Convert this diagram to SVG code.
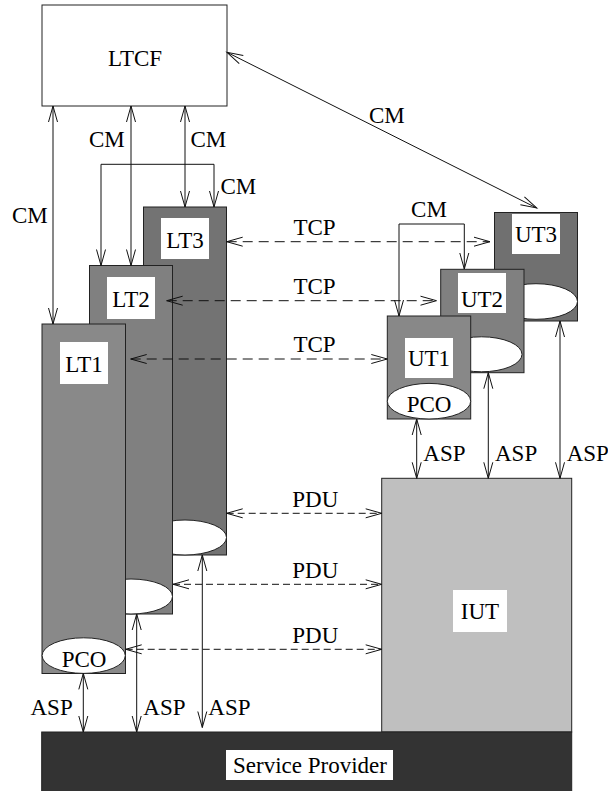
<svg xmlns="http://www.w3.org/2000/svg" width="608" height="791" viewBox="0 0 608 791" font-family="'Liberation Serif', 'Times New Roman', Times, serif" font-size="23">
<defs>
<style>
text{font-family:'Liberation Serif','Times New Roman',Times,serif;font-size:23px;fill:#000}
.c{text-anchor:middle}
.box{stroke:#222;stroke-width:1}
.lbl{fill:#fff;stroke:none}
.ell{fill:#fff;stroke:#222;stroke-width:1}
.ln{fill:none;stroke:#111;stroke-width:1}
.d1{stroke-dasharray:10 6}
.d2{stroke-dasharray:7 4}
.a{marker-end:url(#ah)}
.aa{marker-start:url(#ah);marker-end:url(#ah)}
</style>
<marker id="ah" markerUnits="userSpaceOnUse" viewBox="-18 -6 20 12" markerWidth="20" markerHeight="12" refX="0" refY="0" orient="auto-start-reverse" overflow="visible">
<path d="M-16,-4.5 L0,0 L-16,4.5" fill="none" stroke="#111" stroke-width="1" stroke-dasharray="none"/>
</marker>
</defs>
<rect width="608" height="791" fill="#fff"/>

<g id="ltcf">
<rect class="box" x="42" y="5" width="185" height="101" fill="#fff"/>
<text class="c" x="135" y="66">LTCF</text>
</g>

<g id="lt3">
<rect class="box" x="143.5" y="207" width="83" height="348" fill="#737373"/>
<ellipse class="ell" cx="185" cy="537.5" rx="41.5" ry="17.5"/>
<rect class="lbl" x="161" y="218" width="48" height="41"/>
<text class="c" x="185" y="248">LT3</text>
</g>

<g id="lt2">
<rect class="box" x="89.5" y="265.5" width="83" height="348.5" fill="#808080"/>
<ellipse class="ell" cx="131" cy="596.5" rx="41.5" ry="17.5"/>
<rect class="lbl" x="107" y="277" width="48" height="42"/>
<text class="c" x="131" y="307">LT2</text>
</g>

<g id="lt1">
<rect class="box" x="42" y="324" width="83.5" height="349.5" fill="#898989"/>
<ellipse class="ell" cx="83.7" cy="655.6" rx="41.6" ry="17.8"/>
<rect class="lbl" x="60" y="342" width="48" height="42"/>
<text class="c" x="84" y="372">LT1</text>
<text class="c" x="84" y="666.5">PCO</text>
</g>

<g id="ut3">
<rect class="box" x="494.5" y="212.5" width="83" height="108.5" fill="#707070"/>
<ellipse class="ell" cx="536" cy="301.5" rx="41.5" ry="17.8"/>
<rect class="lbl" x="512" y="214" width="48" height="40"/>
<text class="c" x="536" y="241.5">UT3</text>
</g>

<g id="ut2">
<rect class="box" x="440.7" y="269.3" width="83.3" height="103.4" fill="#808080"/>
<ellipse class="ell" cx="481.5" cy="354.3" rx="40.5" ry="17.5"/>
<rect class="lbl" x="458" y="273" width="48" height="40"/>
<text class="c" x="482" y="306.5">UT2</text>
</g>

<g id="ut1">
<rect class="box" x="387.3" y="316" width="83.4" height="103" fill="#888888"/>
<ellipse class="ell" cx="429" cy="401.2" rx="41.7" ry="17.8"/>
<rect class="lbl" x="405" y="338" width="48" height="40"/>
<text class="c" x="429" y="365.5">UT1</text>
<text class="c" x="429" y="411.5">PCO</text>
</g>

<g id="iut">
<rect class="box" x="381.7" y="478.3" width="190" height="253.7" fill="#bfbfbf"/>
<rect class="lbl" x="453" y="590" width="54" height="42"/>
<text class="c" x="480" y="619">IUT</text>
</g>

<g id="sp">
<rect class="box" x="41.7" y="732" width="530" height="62" fill="#333333"/>
<rect class="lbl" x="226" y="750" width="167" height="30"/>
<text class="c" x="310" y="773">Service Provider</text>
</g>

<g id="connectors">
<path class="ln aa" d="M53,106 V324"/>
<path class="ln aa" d="M131,106 V265.5"/>
<path class="ln aa" d="M185,106 V207"/>
<path class="ln aa" d="M227,52.3 L536.7,208"/>
<path class="ln a" d="M101,164.3 H214 V207"/>
<path class="ln a" d="M101,164.3 V265.5"/>
<path class="ln a" d="M399,224 H464.3 V269"/>
<path class="ln a" d="M399,224 V316"/>
<path class="ln d1 aa" d="M226.7,241.7 H490"/>
<path class="ln d1 aa" d="M166.7,300.7 H436.5"/>
<path class="ln d1 aa" d="M130.7,359 H387.3"/>
<path class="ln d2 aa" d="M226.7,513.3 H381.7"/>
<path class="ln d2 aa" d="M173,584.3 H381.7"/>
<path class="ln d2 aa" d="M125.7,649.3 H381.7"/>
<path class="ln aa" d="M83.3,673.4 V732"/>
<path class="ln aa" d="M136.7,614 V732"/>
<path class="ln aa" d="M202.3,555 V727.5"/>
<path class="ln aa" d="M416.7,419 V478.3"/>
<path class="ln aa" d="M488.3,372.7 V478.3"/>
<path class="ln aa" d="M560,321 V478.3"/>
</g>

<g id="labels">
<text x="12" y="223">CM</text>
<text x="89" y="146.5">CM</text>
<text x="190.5" y="146.5">CM</text>
<text x="220.5" y="194">CM</text>
<text x="369" y="123">CM</text>
<text class="c" x="429" y="217">CM</text>
<text class="c" x="314.5" y="235">TCP</text>
<text class="c" x="314.5" y="294">TCP</text>
<text class="c" x="314.5" y="352">TCP</text>
<text class="c" x="315.3" y="506.5">PDU</text>
<text class="c" x="315.3" y="578">PDU</text>
<text class="c" x="315.3" y="642.5">PDU</text>
<text x="30.5" y="715">ASP</text>
<text x="143.3" y="715">ASP</text>
<text x="208.3" y="715">ASP</text>
<text x="423.3" y="461">ASP</text>
<text x="495" y="461">ASP</text>
<text x="566.7" y="461">ASP</text>
</g>
</svg>
